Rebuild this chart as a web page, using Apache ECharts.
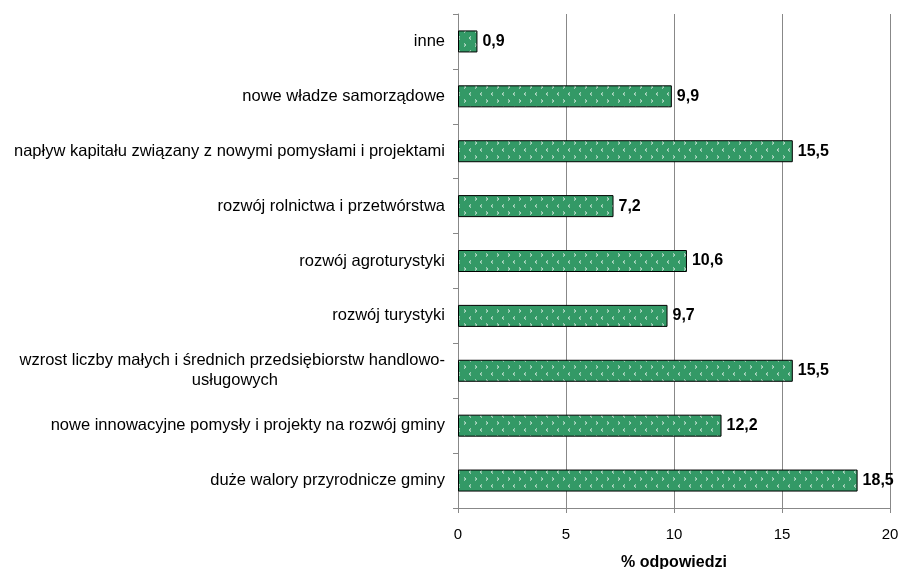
<!DOCTYPE html>
<html><head><meta charset="utf-8">
<script src="https://cdn.jsdelivr.net/npm/echarts@6/dist/echarts.min.js"></script>
<style>html,body{margin:0;padding:0;background:#fff}#c{width:901px;height:569px}</style>
</head><body><div id="c"></div>
<script>
const categories = [
  'inne',
  'nowe władze samorządowe',
  'napływ kapitału związany z nowymi pomysłami i projektami',
  'rozwój rolnictwa i przetwórstwa',
  'rozwój agroturystyki',
  'rozwój turystyki',
  'wzrost liczby małych i średnich przedsiębiorstw handlowo-\n{u|usługowych}',
  'nowe innowacyjne pomysły i projekty na rozwój gminy',
  'duże walory przyrodnicze gminy'
];
const values = [0.9, 9.9, 15.5, 7.2, 10.6, 9.7, 15.5, 12.2, 18.5];
const xTicks = { min: 0, max: 20, interval: 5 };
const axisTitle = '% odpowiedzi';

function makePattern() {
  const c = document.createElement('canvas');
  c.width = 11; c.height = 14;
  const g = c.getContext('2d');
  g.fillStyle = '#339966';
  g.fillRect(0, 0, 11, 14);
  g.strokeStyle = '#e6f4ec';
  g.lineWidth = 1;
  g.beginPath();
  g.moveTo(2, 1.5); g.lineTo(3.8, 3); g.lineTo(2, 4.5);
  g.moveTo(9, 8.5); g.lineTo(7.2, 10); g.lineTo(9, 11.5);
  g.stroke();
  return c;
}

const F = 'Arial, Liberation Sans';
const chart = echarts.init(document.getElementById('c'), null, { renderer: 'canvas' });
chart.setOption({
  animation: false,
  grid: { left: 458, right: 11, top: 14, bottom: 61, containLabel: false, outerBoundsMode: 'none' },
  xAxis: {
    type: 'value', min: xTicks.min, max: xTicks.max, interval: xTicks.interval,
    name: axisTitle, nameLocation: 'middle', nameGap: 47,
    nameTextStyle: { fontFamily: F, fontWeight: 'bold', fontSize: 16, color: '#000' },
    axisLine: { show: true, lineStyle: { color: '#888' } },
    axisTick: { show: true, length: 5, lineStyle: { color: '#888' } },
    axisLabel: { fontFamily: F, fontSize: 15, color: '#000', margin: 19 },
    splitLine: { show: true, lineStyle: { color: '#888' } }
  },
  yAxis: {
    type: 'category', data: categories, inverse: true,
    axisLine: { show: true, lineStyle: { color: '#888' } },
    axisTick: { show: true, length: 5, lineStyle: { color: '#888' } },
    axisLabel: {
      fontFamily: F, fontSize: 16.5, color: '#000', margin: 13, lineHeight: 20,
      rich: { u: { fontFamily: F, fontSize: 16.5, color: '#000', lineHeight: 20, padding: [0, 167, 0, 0] } }
    },
    splitLine: { show: false }
  },
  series: [{
    type: 'bar', data: values, barWidth: 22,
    itemStyle: { color: { image: makePattern(), repeat: 'repeat' }, borderColor: '#000', borderWidth: 1 },
    label: {
      show: true, position: 'right', distance: 5,
      fontFamily: F, fontWeight: 'bold', fontSize: 16, color: '#000',
      formatter: p => String(p.value).replace('.', ',')
    }
  }]
});
</script></body></html>
